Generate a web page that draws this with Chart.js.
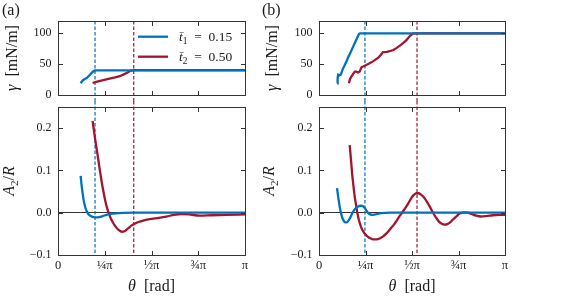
<!DOCTYPE html>
<html><head><meta charset="utf-8">
<script src="https://cdn.jsdelivr.net/npm/chart.js@4.4.1/dist/chart.umd.min.js"></script>
<style>
html,body{margin:0;padding:0;background:#fff;}
#wrap{position:relative;width:564px;height:300px;overflow:hidden;background:#fff;}
canvas{position:absolute;}
</style></head><body>
<div id="wrap">
<canvas id="aTop" width="250" height="101" style="left:0px;top:0px;width:250px;height:101px"></canvas>
<canvas id="aBot" width="250" height="199" style="left:0px;top:101px;width:250px;height:199px"></canvas>
<canvas id="bTop" width="250" height="101" style="left:260px;top:0px;width:250px;height:101px"></canvas>
<canvas id="bBot" width="250" height="199" style="left:260px;top:101px;width:250px;height:199px"></canvas>
</div>
<script>
// ---------- data (theta in units of pi) ----------
const xTickValues = [0, 0.25, 0.5, 0.75, 1];
const xTickLabels = ['0', '¼π', '½π', '¾π', 'π'];
const gammaTicks = [0, 50, 100];
const a2Ticks = [-0.1, 0.0, 0.1, 0.2];
const seriesNames = ['t̄1 = 0.15', 't̄2 = 0.50'];
const seriesColors = ['#0072BD', '#A2142F'];

// panel (a) surface tension
const thetaA_g1 = [0.121, 0.128, 0.135, 0.144, 0.153, 0.162, 0.171, 0.180, 0.190, 0.198, 0.25, 0.40, 0.60, 0.80, 1.0];
const gammaA_1  = [19, 22, 24.5, 26, 27.5, 30, 33, 36, 38.5, 40, 40, 40, 40, 40, 40];
const thetaA_g2 = [0.185, 0.200, 0.220, 0.242, 0.270, 0.305, 0.330, 0.349, 0.370, 0.385, 0.403, 0.60, 0.80, 1.0];
const gammaA_2  = [19.5, 21, 22.5, 24, 26, 28.5, 30.5, 33, 36, 39, 40.5, 40.5, 40.5, 40.5];
// panel (a) amplitude A2/R
const thetaA_a1 = [0.121, 0.126, 0.132, 0.138, 0.145, 0.153, 0.162, 0.175, 0.190, 0.205, 0.220, 0.240, 0.260, 0.280, 0.310, 0.350, 0.400, 0.600, 0.800, 1.0];
const ampA_1    = [0.087, 0.066, 0.045, 0.028, 0.014, 0.004, -0.003, -0.008, -0.0105, -0.011, -0.0105, -0.008, -0.005, -0.003, -0.0015, -0.0005, 0, 0, 0, 0];
const thetaA_a2 = [0.185, 0.192, 0.198, 0.207, 0.216, 0.225, 0.234, 0.243, 0.251, 0.260, 0.269, 0.282, 0.296, 0.310, 0.322, 0.340, 0.355, 0.367, 0.380, 0.394, 0.410, 0.430, 0.460, 0.490, 0.540, 0.580, 0.620, 0.660, 0.700, 0.760, 0.820, 0.900, 1.0];
const ampA_2    = [0.217, 0.195, 0.176, 0.150, 0.124, 0.097, 0.072, 0.050, 0.032, 0.015, 0.002, -0.013, -0.025, -0.034, -0.040, -0.045, -0.044, -0.040, -0.035, -0.030, -0.026, -0.022, -0.018, -0.015, -0.012, -0.009, -0.005, -0.003, -0.004, -0.007, -0.006, -0.005, -0.004];

// panel (b) surface tension
const thetaB_g1 = [0.097, 0.100, 0.103, 0.110, 0.117, 0.123, 0.129, 0.136, 0.142, 0.149, 0.156, 0.165, 0.174, 0.183, 0.192, 0.200, 0.207, 0.215, 0.220, 0.40, 0.60, 0.80, 1.0];
const gammaB_1  = [19, 27, 33, 32, 33, 38, 43, 47, 51, 55, 61, 66, 72, 78, 84, 89, 94, 99, 100, 100, 100, 100, 100];
const thetaB_g2 = [0.161, 0.167, 0.174, 0.183, 0.192, 0.201, 0.210, 0.219, 0.228, 0.246, 0.270, 0.290, 0.317, 0.332, 0.344, 0.365, 0.380, 0.400, 0.416, 0.435, 0.452, 0.470, 0.488, 0.505, 0.520, 0.70, 0.85, 1.0];
const gammaB_2  = [19, 26, 30, 34, 38, 38, 36.5, 38, 45, 47.5, 51, 54.5, 60, 65, 69.5, 70, 71, 73, 76, 80, 84, 89, 95.5, 99.5, 100, 100, 100, 100];
// panel (b) amplitude A2/R
const thetaB_a1 = [0.097, 0.104, 0.111, 0.120, 0.129, 0.138, 0.147, 0.156, 0.165, 0.174, 0.183, 0.196, 0.210, 0.222, 0.233, 0.246, 0.255, 0.263, 0.275, 0.290, 0.305, 0.320, 0.340, 0.380, 0.60, 0.80, 1.0];
const ampB_1    = [0.058, 0.035, 0.015, -0.004, -0.016, -0.022, -0.023, -0.020, -0.014, -0.006, 0.002, 0.010, 0.0145, 0.0165, 0.016, 0.011, 0.005, 0.0, -0.004, -0.005, -0.004, -0.002, -0.001, 0, 0, 0, 0];
const thetaB_a2 = [0.165, 0.172, 0.178, 0.185, 0.192, 0.200, 0.210, 0.219, 0.228, 0.240, 0.255, 0.270, 0.290, 0.310, 0.326, 0.345, 0.360, 0.371, 0.390, 0.405, 0.416, 0.430, 0.445, 0.461, 0.480, 0.497, 0.510, 0.524, 0.535, 0.550, 0.565, 0.577, 0.595, 0.613, 0.630, 0.645, 0.660, 0.675, 0.690, 0.705, 0.720, 0.740, 0.756, 0.770, 0.785, 0.800, 0.820, 0.845, 0.870, 0.900, 0.935, 0.970, 1.0];
const ampB_2    = [0.160, 0.125, 0.093, 0.064, 0.038, 0.016, -0.009, -0.024, -0.036, -0.046, -0.054, -0.059, -0.063, -0.063, -0.061, -0.056, -0.050, -0.045, -0.035, -0.027, -0.020, -0.010, -0.001, 0.009, 0.022, 0.035, 0.042, 0.046, 0.046, 0.042, 0.036, 0.028, 0.015, 0.000, -0.012, -0.021, -0.026, -0.028, -0.027, -0.023, -0.016, -0.008, -0.002, 0.000, 0.001, 0.000, -0.003, -0.007, -0.009, -0.008, -0.006, -0.005, -0.005];

// vertical marker positions (units of pi)
const markersA = [0.198, 0.405];
const markersB = [0.247, 0.527];

// ---------- helpers ----------
const FONT = "'Liberation Serif', 'Times New Roman', serif";
const INK = '#1a1a1a';
const FRAME = '#333';

function pts(xs, ys) { return xs.map((v, i) => ({x: v, y: ys[i]})); }

function fontOf(p, fs) {
  const size = p.sub ? fs * 0.7 : fs;
  return (p.it ? 'italic ' : '') + size + 'px ' + FONT;
}
function drawRich(ctx, parts, fs, x, y, align) {
  let w = 0;
  parts.forEach(p => { ctx.font = fontOf(p, fs); w += ctx.measureText(p.t).width; });
  let cx = align === 'center' ? x - w / 2 : x;
  ctx.textAlign = 'left';
  ctx.textBaseline = 'alphabetic';
  parts.forEach(p => {
    ctx.font = fontOf(p, fs);
    ctx.fillText(p.t, cx, y + (p.sub ? fs * 0.22 : 0));
    cx += ctx.measureText(p.t).width;
  });
}

const GAMMA_TITLE = [{t: 'γ', it: true}, {t: '\u2002[mN/m]'}];
const A2_TITLE = [{t: 'A', it: true}, {t: '2', sub: true}, {t: '/'}, {t: 'R', it: true}];
const THETA_TITLE = [{t: 'θ', it: true}, {t: '\u2002[rad]'}];

const framePlugin = {
  id: 'frameTicks',
  afterDraw(chart) {
    const {ctx, chartArea: a, scales} = chart;
    const L = Math.floor(a.left) + 0.5, R = Math.floor(a.right) + 0.5;
    const T = Math.floor(a.top) + 0.5, B = Math.floor(a.bottom) + 0.5;
    const len = 4.5;
    ctx.save();
    ctx.strokeStyle = FRAME;
    ctx.lineWidth = 1;
    ctx.strokeRect(L, T, R - L, B - T);
    ctx.beginPath();
    scales.x.ticks.forEach(t => {
      const px = Math.round(scales.x.getPixelForValue(t.value)) + 0.5;
      ctx.moveTo(px, B); ctx.lineTo(px, B - len);
      ctx.moveTo(px, T); ctx.lineTo(px, T + len);
    });
    scales.y.ticks.forEach(t => {
      const py = Math.round(scales.y.getPixelForValue(t.value)) + 0.5;
      ctx.moveTo(L, py); ctx.lineTo(L + len, py);
      ctx.moveTo(R, py); ctx.lineTo(R - len, py);
    });
    ctx.stroke();
    ctx.restore();
  }
};

function markerPlugin(values, isTop) {
  return {
    id: 'markers',
    beforeDatasetsDraw(chart) {
      const {ctx, chartArea: a, scales} = chart;
      ctx.save();
      ctx.lineWidth = 1.2;
      ctx.setLineDash([3.5, 2]);
      values.forEach((v, i) => {
        const px = scales.x.getPixelForValue(v);
        ctx.strokeStyle = seriesColors[i];
        ctx.beginPath();
        if (isTop) { ctx.moveTo(px, a.top); ctx.lineTo(px, chart.height); }
        else { ctx.moveTo(px, 0); ctx.lineTo(px, a.bottom); }
        ctx.stroke();
      });
      ctx.restore();
    }
  };
}

function textPlugin(drawFn) {
  return { id: 'texts', afterDraw(chart) { const ctx = chart.ctx; ctx.save(); ctx.fillStyle = INK; drawFn(chart, ctx); ctx.restore(); } };
}

function makeChart(id, o) {
  const datasets = o.series.map((s, i) => ({
    label: seriesNames[i],
    data: pts(s[0], s[1]),
    borderColor: seriesColors[i],
    borderWidth: 2.3,
    pointRadius: 0,
    fill: false,
    tension: o.smooth ? 0.4 : 0,
    cubicInterpolationMode: o.smooth ? 'monotone' : 'default'
  }));
  return new Chart(document.getElementById(id), {
    type: 'line',
    data: {datasets},
    options: {
      responsive: false,
      animation: false,
      events: [],
      layout: {padding: {top: o.padTop, right: 5, left: 0, bottom: 0}},
      plugins: {legend: {display: false}, tooltip: {enabled: false}},
      scales: {
        x: {
          type: 'linear', min: 0, max: 1,
          afterBuildTicks: s => { s.ticks = xTickValues.map(v => ({value: v})); },
          ticks: {
            display: o.xLabels, autoSkip: false, maxRotation: 0, padding: 3,
            font: {family: FONT, size: 12.5}, color: INK,
            callback: v => xTickLabels[xTickValues.indexOf(v)]
          },
          grid: {display: false, drawTicks: false},
          border: {display: false},
          afterFit: s => { s.height = o.xHeight; s.paddingLeft = 0; s.paddingRight = 0; }
        },
        y: {
          type: 'linear', min: o.yMin, max: o.yMax,
          afterBuildTicks: s => { s.ticks = o.yTicks.map(v => ({value: v})); },
          ticks: {
            autoSkip: false, padding: 6.5,
            font: {family: FONT, size: 12}, color: INK,
            callback: o.yFormat
          },
          grid: {
            display: o.zeroLine, drawTicks: false, lineWidth: 1,
            color: c => (c.tick && c.tick.value === 0) ? '#333' : 'rgba(0,0,0,0)'
          },
          border: {display: false},
          afterFit: s => { s.width = o.yWidth; s.paddingTop = 0; s.paddingBottom = 0; }
        }
      }
    },
    plugins: [markerPlugin(o.markers, o.isTop), framePlugin, textPlugin(o.texts)]
  });
}

const fmtGamma = v => String(v);
const fmtAmp = v => (v < 0 ? '\u2212' + Math.abs(v).toFixed(1) : v.toFixed(1));

function yTitle(parts, bx) {
  return (chart, ctx) => {
    const a = chart.chartArea;
    ctx.save();
    ctx.translate(bx, (a.top + a.bottom) / 2);
    ctx.rotate(-Math.PI / 2);
    drawRich(ctx, parts, 16, 0, 0, 'center');
    ctx.restore();
  };
}
function xTitle(chart, ctx) {
  const a = chart.chartArea;
  drawRich(ctx, THETA_TITLE, 16, (a.left + a.right) / 2, 190, 'center');
}
function legend(chart, ctx) {
  const rows = [36.7, 56.7];
  rows.forEach((y, i) => {
    ctx.save();
    ctx.strokeStyle = seriesColors[i];
    ctx.lineWidth = 2.3;
    ctx.beginPath(); ctx.moveTo(138, y); ctx.lineTo(168, y); ctx.stroke();
    ctx.restore();
    const name = seriesNames[i];
    const parts = [{t: 't\u0304', it: true}, {t: name.charAt(2), sub: true}, {t: '\u2002=\u2002' + name.split('= ')[1]}];
    drawRich(ctx, parts, 13.5, 179, y + 4.5, 'left');
  });
}

makeChart('aTop', {
  series: [[thetaA_g1, gammaA_1], [thetaA_g2, gammaA_2]], smooth: false,
  padTop: 21, xHeight: 6, xLabels: false, yWidth: 58,
  yMin: 0, yMax: 120, yTicks: gammaTicks, yFormat: fmtGamma, zeroLine: false,
  markers: markersA, isTop: true,
  texts: (chart, ctx) => {
    drawRich(ctx, [{t: '(a)'}], 16, 2, 15, 'left');
    yTitle(GAMMA_TITLE, 17)(chart, ctx);
    legend(chart, ctx);
  }
});
makeChart('aBot', {
  series: [[thetaA_a1, ampA_1], [thetaA_a2, ampA_2]], smooth: true,
  padTop: 6, xHeight: 45, xLabels: true, yWidth: 58,
  yMin: -0.1, yMax: 0.25, yTicks: a2Ticks, yFormat: fmtAmp, zeroLine: true,
  markers: markersA, isTop: false,
  texts: (chart, ctx) => { yTitle(A2_TITLE, 14)(chart, ctx); xTitle(chart, ctx); }
});
makeChart('bTop', {
  series: [[thetaB_g1, gammaB_1], [thetaB_g2, gammaB_2]], smooth: false,
  padTop: 21, xHeight: 6, xLabels: false, yWidth: 59,
  yMin: 0, yMax: 120, yTicks: gammaTicks, yFormat: fmtGamma, zeroLine: false,
  markers: markersB, isTop: true,
  texts: (chart, ctx) => {
    drawRich(ctx, [{t: '(b)'}], 16, 2, 15, 'left');
    yTitle(GAMMA_TITLE, 17)(chart, ctx);
  }
});
makeChart('bBot', {
  series: [[thetaB_a1, ampB_1], [thetaB_a2, ampB_2]], smooth: true,
  padTop: 6, xHeight: 45, xLabels: true, yWidth: 59,
  yMin: -0.1, yMax: 0.25, yTicks: a2Ticks, yFormat: fmtAmp, zeroLine: true,
  markers: markersB, isTop: false,
  texts: (chart, ctx) => { yTitle(A2_TITLE, 14)(chart, ctx); xTitle(chart, ctx); }
});
</script>
</body></html>
